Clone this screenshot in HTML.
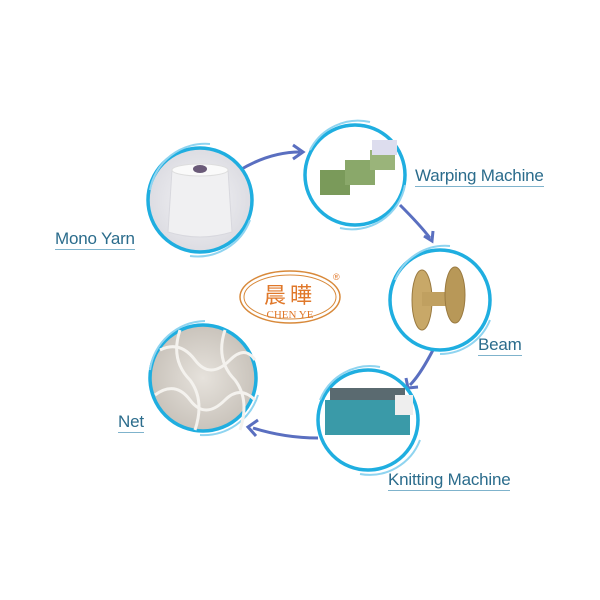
<!DOCTYPE html>
<html><head><meta charset="utf-8"><style>
body{margin:0;background:#fff;}
.l{position:absolute;font-family:"Liberation Sans","DejaVu Sans",sans-serif;font-size:17px;color:#2b6c8c;border-bottom:1.5px solid #7fb3cc;line-height:18px;padding-bottom:1px;white-space:nowrap;letter-spacing:-0.2px}
</style></head><body>
<div style="position:relative;width:600px;height:600px;overflow:hidden">
<svg width="600" height="600" style="position:absolute;left:0;top:0">
<defs>
<radialGradient id="y" cx="50%" cy="50%" r="50%"><stop offset="0" stop-color="#f4f4f6"/><stop offset="1" stop-color="#dcdce2"/></radialGradient>
<radialGradient id="n" cx="50%" cy="50%" r="50%"><stop offset="0" stop-color="#e6e2dc"/><stop offset="1" stop-color="#c9c3bb"/></radialGradient>
</defs>
<g fill="none" stroke="#5a6fc0" stroke-width="3">
<path d="M240 170 Q270 152 300 152"/><path d="M293 145 L303 152 L293 159"/>
<path d="M400 205 Q420 225 430 238"/><path d="M424 236 L432 241 L433 231"/>
<path d="M433 350 Q420 375 410 385"/><path d="M406 378 L408 388 L418 387"/>
<path d="M318 438 Q285 438 253 428"/><path d="M258 420 L248 427 L256 436"/>
</g>
<g stroke="#1faee0" stroke-width="3.5">
<circle cx="200" cy="200" r="52" fill="url(#y)"/>
<circle cx="355" cy="175" r="50" fill="#fff"/>
<circle cx="440" cy="300" r="50" fill="#fff"/>
<circle cx="368" cy="420" r="50" fill="#fff"/>
<circle cx="203" cy="378" r="53" fill="url(#n)"/>
</g>
<g fill="none" stroke="#8fd4f0" stroke-width="2">
<path d="M150 190 A56 56 0 0 1 210 144"/><path d="M250 220 A56 56 0 0 1 190 256"/>
<path d="M310 150 A54 54 0 0 1 370 122"/><path d="M405 185 A54 54 0 0 1 340 228"/>
<path d="M395 280 A54 54 0 0 1 450 246"/><path d="M490 320 A54 54 0 0 1 440 354"/>
<path d="M320 400 A54 54 0 0 1 380 367"/><path d="M420 440 A54 54 0 0 1 360 474"/>
<path d="M150 370 A57 57 0 0 1 205 321"/><path d="M258 395 A57 57 0 0 1 200 435"/>
</g>
<path d="M172 170 L228 170 L232 232 Q200 242 168 232 Z" fill="#f0f0f2" stroke="#d8d8de"/>
<ellipse cx="200" cy="170" rx="28" ry="6" fill="#fafafa" stroke="#ddd"/>
<ellipse cx="200" cy="169" rx="7" ry="4" fill="#6a5a78"/>
<rect x="320" y="170" width="30" height="25" fill="#7a9a5a"/><rect x="345" y="160" width="30" height="25" fill="#8aa86a"/><rect x="370" y="150" width="25" height="20" fill="#9ab47a"/><rect x="372" y="140" width="25" height="15" fill="#dde"/>
<ellipse cx="422" cy="300" rx="10" ry="30" fill="#c8a868" stroke="#9a7a40"/><rect x="422" y="292" width="30" height="14" fill="#c0a060"/><ellipse cx="455" cy="295" rx="10" ry="28" fill="#b89858" stroke="#9a7a40"/>
<rect x="325" y="400" width="85" height="35" fill="#3a9aa8"/><rect x="330" y="388" width="75" height="12" fill="#5a6a70"/><rect x="395" y="395" width="18" height="20" fill="#eee"/>
<g fill="none" stroke="#f4f2ee" stroke-width="3">
<path d="M160 350 Q180 340 195 360 Q210 380 230 360 Q245 345 255 360"/>
<path d="M155 395 Q175 380 190 400 Q205 420 225 400 Q240 385 255 400"/>
<path d="M180 330 Q170 360 190 380 Q205 400 195 430"/>
<path d="M225 330 Q215 360 235 380 Q250 400 240 430"/>
</g>
<ellipse cx="290" cy="297" rx="50" ry="26" fill="none" stroke="#d8893a" stroke-width="1.5"/>
<ellipse cx="290" cy="297" rx="46" ry="22" fill="none" stroke="#d8893a" stroke-width="1"/>
<text x="290" y="303" text-anchor="middle" font-family="Noto Sans CJK SC,sans-serif" font-size="22" fill="#e0782a" letter-spacing="4">晨曄</text>
<text x="290" y="318" text-anchor="middle" font-family="Liberation Serif,serif" font-size="11" fill="#e0782a">CHEN YE</text>
<text x="333" y="280" font-family="Liberation Sans,sans-serif" font-size="9" fill="#e0782a">®</text>
</svg>
<div class="l" style="left:55px;top:230px">Mono Yarn</div>
<div class="l" style="left:415px;top:167px">Warping Machine</div>
<div class="l" style="left:478px;top:336px">Beam</div>
<div class="l" style="left:388px;top:471px">Knitting Machine</div>
<div class="l" style="left:118px;top:413px">Net</div>
</div>
</body></html>
